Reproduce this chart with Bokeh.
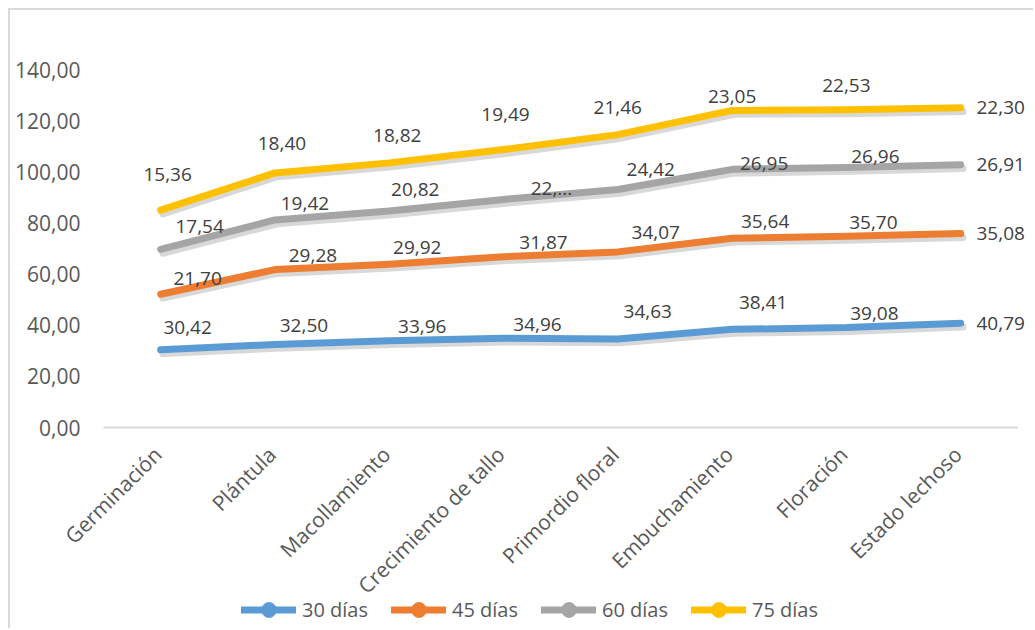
import math
from bokeh.plotting import figure
from bokeh.models import (Range1d, ColumnDataSource, Legend, LegendItem, LabelSet)
from bokeh.core.properties import value
from bokeh.embed import file_html
from bokeh.resources import INLINE

categories = ["Germinación", "Plántula", "Macollamiento", "Crecimiento de tallo",
              "Primordio floral", "Embuchamiento", "Floración", "Estado lechoso"]
series_names = ["30 días", "45 días", "60 días", "75 días"]
d30 = [30.42, 32.50, 33.96, 34.96, 34.63, 38.41, 39.08, 40.79]
d45 = [21.70, 29.28, 29.92, 31.87, 34.07, 35.64, 35.70, 35.08]
d60 = [17.54, 19.42, 20.82, 22.40, 24.42, 26.95, 26.96, 26.91]
d75 = [15.36, 18.40, 18.82, 19.49, 21.46, 23.05, 22.53, 22.30]
y_ticks = [0, 20, 40, 60, 80, 100, 120, 140]

def fmt(v):
    return f"{v:.2f}".replace(".", ",")
labels30 = [fmt(v) for v in d30]
labels45 = [fmt(v) for v in d45]
labels60 = [fmt(v) for v in d60]
labels60[3] = "22,..."
labels75 = [fmt(v) for v in d75]

# label screen offsets (style)
off30 = [(27, 22), (29, 19), (33, 14), (34, 14), (30, 27), (31, 27), (28, 14), (40, 0)]
off45 = [(37, 16), (38, 14), (28, 17), (40, 14), (38, 19), (33, 17), (27, 14), (40, 0)]
off60 = [(39, 23), (30, 16), (26, 21), (48, 11), (33, 20), (32, 6), (29, 11), (40, 0)]
off75 = [(7, 36), (7, 29), (8, 27), (2, 35), (0, 27), (0, 14), (0, 24), (40, 0)]

colors = ["#5B9BD5", "#ED7D31", "#A5A5A5", "#FFC000"]
FONT = "Open Sans"

# one frame covering the whole chart area (page x 10..1035, y 10..630)
p = figure(width=1025, height=620, output_backend="svg", toolbar_location=None,
           x_range=Range1d(-1.3137, 7.6546), y_range=Range1d(-79.4, 163.13),
           min_border_left=0, min_border_right=0, min_border_top=0, min_border_bottom=0)
p.styles = {"margin-left": "8px", "margin-top": "8px",
            "border-top": "2px solid #d9d9d9", "border-left": "2px solid #d9d9d9"}
p.outline_line_color = None
p.xgrid.grid_line_color = None
p.ygrid.grid_line_color = None
p.xaxis.visible = False
p.yaxis.visible = False
p.background_fill_color = "white"
p.border_fill_color = "white"

xs = list(range(len(categories)))

# value axis labels
ytl_src = ColumnDataSource(dict(x=[-0.5] * len(y_ticks), y=y_ticks, t=[fmt(t) for t in y_ticks]))
p.text("x", "y", text="t", source=ytl_src, text_align="right", text_baseline="middle",
       x_offset=-23, text_font=value(FONT), text_font_size="21px", text_color="#595959")

# category axis baseline and labels
p.segment(x0=[-0.5], y0=[0], x1=[len(categories) - 0.5], y1=[0], line_color="#d9d9d9", line_width=2)
cat_src = ColumnDataSource(dict(x=xs, y=[0] * len(xs), t=categories))
p.text("x", "y", text="t", source=cat_src, angle=math.pi / 4, text_align="right",
       text_baseline="middle", x_offset=-3, y_offset=23, text_font=value(FONT),
       text_font_size="21px", text_color="#595959")

stack = [0.0] * len(categories)
renderers = []
for vals, labs, offs, col in [(d30, labels30, off30, colors[0]), (d45, labels45, off45, colors[1]),
                              (d60, labels60, off60, colors[2]), (d75, labels75, off75, colors[3])]:
    stack = [a + b for a, b in zip(stack, vals)]
    src = ColumnDataSource(dict(x=xs, y=stack, lab=labs,
                                dx=[o[0] for o in offs], dy=[o[1] for o in offs],
                                xs_sh=[x + 0.02 for x in xs], ys_sh=[y - 1.5 for y in stack]))
    p.line("xs_sh", "ys_sh", source=src, line_color="#7f7f7f", line_alpha=0.3, line_width=7,
           line_cap="round", line_join="round")
    r = p.line("x", "y", source=src, line_color=col, line_width=7, line_cap="round", line_join="round")
    m = p.scatter("x", "y", source=src, marker="circle", size=15, fill_color=col, line_color=col)
    m.visible = False
    renderers.append((r, m))
    ls = LabelSet(x="x", y="y", text="lab", source=src, x_offset="dx", y_offset="dy",
                  text_font=value(FONT), text_font_size="19px", text_color="#404040",
                  text_align="center", text_baseline="middle")
    p.add_layout(ls)

legend = Legend(items=[LegendItem(label=n, renderers=[r, m]) for n, (r, m) in zip(series_names, renderers)],
                orientation="horizontal", location=(231, 2),
                glyph_width=55, glyph_height=37, label_standoff=6, spacing=23, padding=2, margin=0,
                border_line_color=None, background_fill_alpha=0,
                label_text_font=FONT, label_text_font_size="20px", label_text_color="#595959")
p.add_layout(legend, "center")

open("out.html", "w").write(file_html(p, INLINE))
